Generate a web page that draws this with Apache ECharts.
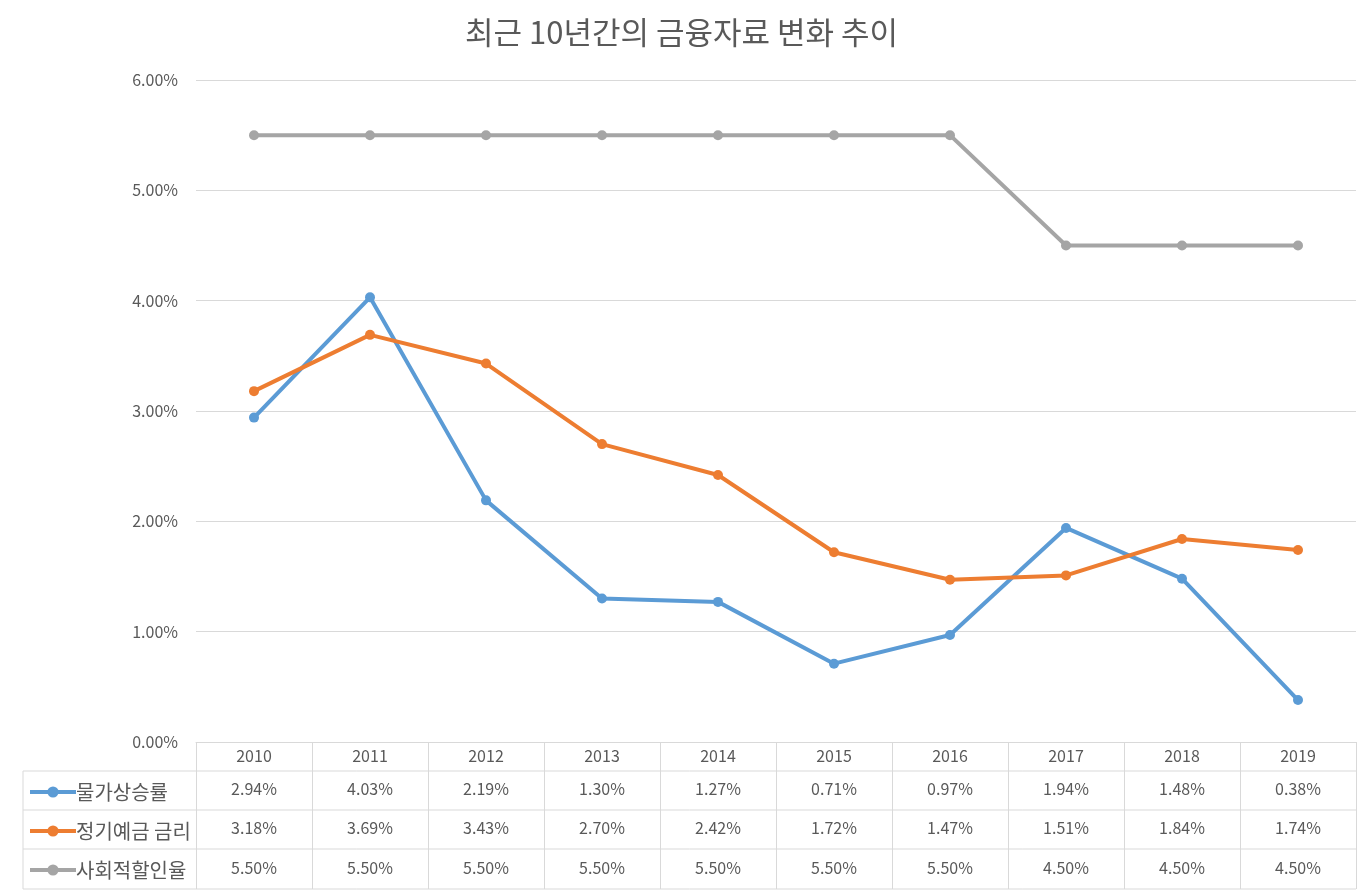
<!DOCTYPE html>
<html><head><meta charset="utf-8">
<script src="https://cdn.jsdelivr.net/npm/echarts@6/dist/echarts.min.js"></script>
<style>html,body{margin:0;padding:0;background:#fff}#c{width:1363px;height:893px}</style>
</head><body><div id="c"></div>
<script>
const years = ['2010','2011','2012','2013','2014','2015','2016','2017','2018','2019'];
const seriesNames = ['물가상승률','정기예금 금리','사회적할인율'];
const inflation = [2.94,4.03,2.19,1.30,1.27,0.71,0.97,1.94,1.48,0.38];
const deposit = [3.18,3.69,3.43,2.70,2.42,1.72,1.47,1.51,1.84,1.74];
const discount = [5.50,5.50,5.50,5.50,5.50,5.50,5.50,4.50,4.50,4.50];
const yTicks = {min:0, max:6, interval:1};

const colors = ['#5B9BD5','#ED7D31','#A5A5A5'];
const allData = [inflation, deposit, discount];
const FONT = '"Noto Sans CJK KR", "Noto Sans", sans-serif';
const gridL = 196, gridR = 1356, gridT = 80, gridB = 742;
const rowY = [771, 810, 849, 889];
const fmt = v => v.toFixed(2) + '%';

const chart = echarts.init(document.getElementById('c'), null, {renderer:'canvas'});

const xAxes = [{
  type:'category', data:years, boundaryGap:true, gridIndex:0, position:'bottom',
  axisLine:{show:true, lineStyle:{color:'#D9D9D9', width:1}},
  axisTick:{show:true, alignWithLabel:false, length:147, lineStyle:{color:'#D9D9D9', width:1}},
  axisLabel:{color:'#595959', fontSize:16, fontFamily:FONT, margin:6}
}];
const offsets = [33, 72, 112];
allData.forEach((d,i)=>{
  xAxes.push({
    type:'category', data:d.map(fmt), boundaryGap:true, gridIndex:0, position:'bottom', offset:offsets[i],
    axisLine:{show:false}, axisTick:{show:false},
    axisLabel:{color:'#595959', fontSize:16, fontFamily:FONT, margin:6}
  });
});

const graphics = [];
rowY.forEach(y=>{
  graphics.push({type:'line', shape:{x1:23, y1:y, x2:gridR, y2:y}, style:{stroke:'#D9D9D9', lineWidth:1}, silent:true});
});
graphics.push({type:'line', shape:{x1:23, y1:rowY[0], x2:23, y2:rowY[3]}, style:{stroke:'#D9D9D9', lineWidth:1}, silent:true});

chart.setOption({
  animation:false,
  backgroundColor:'#fff',
  color:colors,
  title:{text:'최근 10년간의 금융자료 변화 추이', left:'center', top:12,
    textStyle:{fontFamily:FONT, fontSize:31, fontWeight:'normal', color:'#595959'}},
  grid:{left:gridL, right:1363-gridR, top:gridT, bottom:893-gridB, containLabel:false},
  legend:{orient:'vertical', left:23, top:777, itemWidth:46, itemHeight:14, itemGap:19,
    lineStyle:{width:4}, itemStyle:{borderWidth:0},
    textStyle:{fontFamily:FONT, fontSize:20, color:'#595959', padding:[0,0,0,-5]},
    data:seriesNames},
  xAxis:xAxes,
  yAxis:{type:'value', min:yTicks.min, max:yTicks.max, interval:yTicks.interval,
    axisLine:{show:false}, axisTick:{show:false},
    splitLine:{lineStyle:{color:'#D9D9D9', width:1}},
    axisLabel:{color:'#595959', fontSize:16, fontFamily:FONT, margin:18, formatter:v=>v.toFixed(2)+'%'}},
  series:allData.map((d,i)=>({
    name:seriesNames[i], type:'line', data:d, xAxisIndex:0,
    symbol:'circle', symbolSize:10, lineStyle:{width:4, color:colors[i]},
    itemStyle:{color:colors[i]}
  })),
  graphic:graphics
});
</script></body></html>
